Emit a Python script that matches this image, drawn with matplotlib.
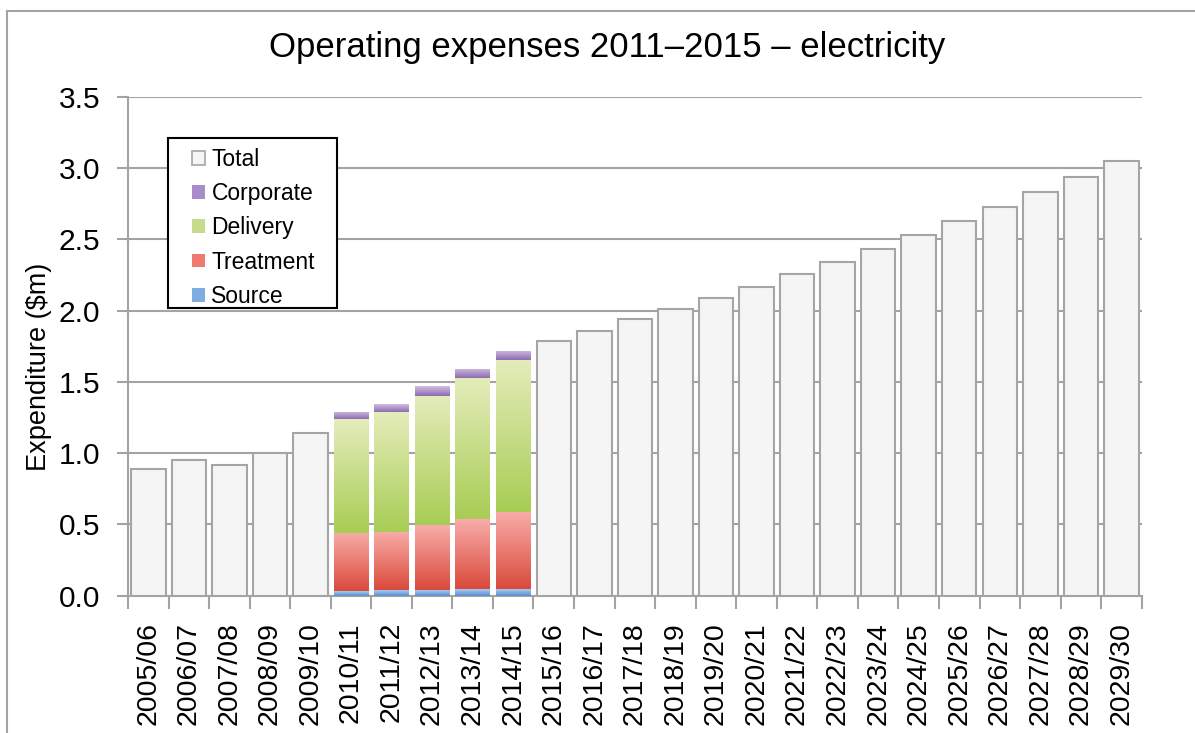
import numpy as np
import matplotlib
matplotlib.use("Agg")
import matplotlib.pyplot as plt
from matplotlib.colors import LinearSegmentedColormap
from matplotlib.lines import Line2D
from matplotlib.patches import Patch, Rectangle

plt.rcParams['font.family'] = ['Liberation Sans', 'DejaVu Sans']

years = ["2005/06", "2006/07", "2007/08", "2008/09", "2009/10",
         "2010/11", "2011/12", "2012/13", "2013/14", "2014/15",
         "2015/16", "2016/17", "2017/18", "2018/19", "2019/20",
         "2020/21", "2021/22", "2022/23", "2023/24", "2024/25",
         "2025/26", "2026/27", "2027/28", "2028/29", "2029/30"]

# total only where there is no breakdown
total = [0.89, 0.95, 0.92, 1.00, 1.14,
         0, 0, 0, 0, 0,
         1.79, 1.86, 1.94, 2.01, 2.09,
         2.17, 2.26, 2.34, 2.43, 2.53,
         2.63, 2.73, 2.83, 2.94, 3.05]

# breakdown for 2010/11 - 2014/15
split_years = ["2010/11", "2011/12", "2012/13", "2013/14", "2014/15"]
source = [0.03, 0.04, 0.04, 0.045, 0.045]
treatment = [0.41, 0.41, 0.455, 0.49, 0.54]
delivery = [0.80, 0.84, 0.91, 0.99, 1.07]
corporate = [0.05, 0.055, 0.065, 0.065, 0.065]

grid_col = "#a3a3a3"
W, H = 1195, 733

fig = plt.figure(figsize=(11.95, 7.33), dpi=100)
ax = fig.add_axes([128/W, 1-595.7/H, (1141.7-128)/W, (595.7-97)/H])

x = np.arange(len(years))
w = 0.85

ax.bar(x, total, width=w, color="#f4f5f4", edgecolor="#a5a5a5", linewidth=1.5, zorder=3)


def shade(bars, light, dark):
    # vertical gradient inside each bar, light at top
    cmap = LinearSegmentedColormap.from_list("g", [light, dark])
    grad = np.linspace(0, 1, 64).reshape(-1, 1)
    for b in bars:
        x0, y0 = b.get_x(), b.get_y()
        bw, bh = b.get_width(), b.get_height()
        im = ax.imshow(grad, extent=[x0, x0 + bw, y0, y0 + bh], cmap=cmap,
                       aspect="auto", zorder=3, interpolation="bilinear")
        im.set_clip_path(b)
        b.set_facecolor("none")


xs = np.array([years.index(y) for y in split_years])
bottom = np.zeros(len(xs))
layers = [(source, "#a9c9ee", "#5690d3"),
          (treatment, "#f8aca8", "#da4a3c"),
          (delivery, "#e4ecba", "#a8cd55"),
          (corporate, "#d0bde0", "#8d6cb1")]
for vals, light, dark in layers:
    bars = ax.bar(xs, vals, width=w, bottom=bottom, color="none", linewidth=0, zorder=3)
    shade(bars, light, dark)
    bottom += np.array(vals)

ax.set_xlim(-0.5, len(years) - 0.5)
ax.set_ylim(0, 3.5)
ax.set_yticks(np.arange(0, 3.51, 0.5))
ax.set_yticklabels([f"{v:.1f}" for v in np.arange(0, 3.51, 0.5)], fontsize=21.5)
ax.yaxis.grid(True, color=grid_col, linewidth=1.5, zorder=0)
ax.set_axisbelow(True)

ax.set_xticks(x)
ax.set_xticklabels(years, rotation=90, fontsize=20.5)
ax.set_xticks(np.arange(-0.5, len(years)), minor=True)
ax.tick_params(axis="x", which="major", length=0, pad=19)
ax.tick_params(axis="x", which="minor", length=9, width=1.5, color=grid_col)
ax.tick_params(axis="y", length=8, width=1.5, color=grid_col, pad=12)

for s in ["top", "right"]:
    ax.spines[s].set_visible(False)
for s in ["left", "bottom"]:
    ax.spines[s].set_color(grid_col)
    ax.spines[s].set_linewidth(1.5)

ax.set_ylabel("Expenditure ($m)", fontsize=19.5)
ax.yaxis.set_label_coords((52 - 128) / 1013.7, (595.7 - 367) / 498.7)

fig.text(607/W, 1-48/H, "Operating expenses 2011\u20132015 \u2013 electricity",
         ha="center", va="center", fontsize=25)

handles = [Patch(facecolor="#f4f5f4", edgecolor="#a5a5a5", linewidth=1.2),
           Patch(facecolor="#a88cc8"),
           Patch(facecolor="#c7dc8a"),
           Patch(facecolor="#ee7b72"),
           Patch(facecolor="#7fade0")]
labels = ["Total", "Corporate", "Delivery", "Treatment", "Source"]

# legend box drawn separately so the padding can be set per side
fig.add_artist(Rectangle((168/W, 1-308/H), (337-168)/W, (308-138)/H,
                         transform=fig.transFigure, facecolor="white",
                         edgecolor="black", linewidth=1.5, zorder=4))
leg = fig.legend(handles, labels, loc="upper left",
                 bbox_to_anchor=(192/W, 1-148/H), fontsize=16.5,
                 frameon=False, borderaxespad=0, borderpad=0,
                 handlelength=0.55, handleheight=0.55, handletextpad=0.3,
                 labelspacing=0.49)
leg.set_zorder(5)

# outer frame of the chart area
fig.add_artist(Line2D([7/W, 7/W], [0, 1-11/H], color=grid_col, lw=1.5))
fig.add_artist(Line2D([7/W, 1], [1-11/H, 1-11/H], color=grid_col, lw=1.5))

fig.savefig("out.png", dpi=100)
